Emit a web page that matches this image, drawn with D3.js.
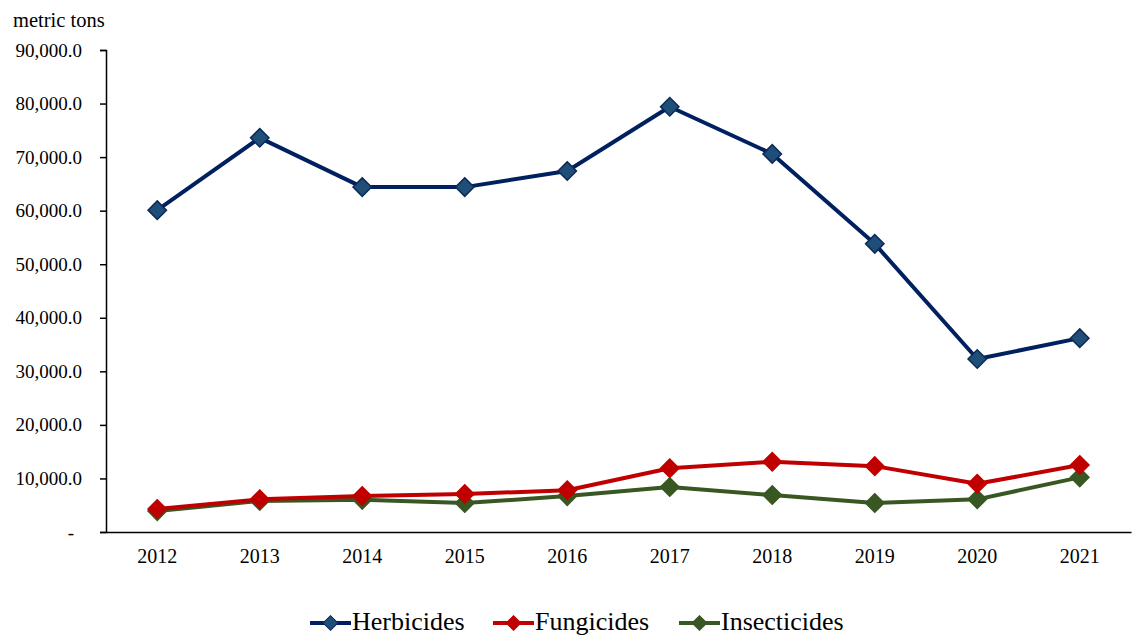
<!DOCTYPE html>
<html>
<head>
<meta charset="utf-8">
<script src="https://cdn.jsdelivr.net/npm/d3@7"></script>
<style>
  body { margin: 0; background: #fff; }
  svg { display: block; font-family: "Liberation Serif", "Times New Roman", serif; }
</style>
</head>
<body>
<svg id="chart" width="1134" height="637"></svg>
<script>
// data
const years = ["2012", "2013", "2014", "2015", "2016", "2017", "2018", "2019", "2020", "2021"];
const herbicides = [60100, 73600, 64400, 64400, 67400, 79400, 70600, 53800, 32300, 36200];
const fungicides = [4300, 6100, 6700, 7100, 7800, 11900, 13100, 12300, 9000, 12500];
const insecticides = [3900, 5800, 6000, 5400, 6700, 8400, 6900, 5400, 6100, 10200];
const yTicks = [0, 10000, 20000, 30000, 40000, 50000, 60000, 70000, 80000, 90000];

const series = [
  {name: "Herbicides", values: herbicides, line: "#002060", fill: "#1f4e79", stroke: "#0b2a55"},
  {name: "Fungicides", values: fungicides, line: "#c00000", fill: "#c00000", stroke: "#c00000"},
  {name: "Insecticides", values: insecticides, line: "#385723", fill: "#385723", stroke: "#385723"}
];

const svg = d3.select("#chart");

//Plot area
const plot = {left: 106, right: 1131, top: 50, bottom: 532};

const x = d3.scaleBand().domain(years).range([plot.left, plot.right]);
const y = d3.scaleLinear().domain([0, 90000]).range([plot.bottom, plot.top]);

//Y axis, labels with one decimal and "-" for zero
const fmt = d3.format(",.1f");
const yAxis = svg.append("g")
    .attr("transform", `translate(${plot.left},0)`)
    .call(d3.axisLeft(y).tickValues(yTicks).tickSize(6).tickPadding(18)
      .tickFormat(d => d === 0 ? "-" : fmt(d)));
yAxis.select(".domain").attr("stroke", "#000").attr("stroke-width", 1.5);
yAxis.selectAll(".tick line").attr("stroke", "#000").attr("stroke-width", 1.5);
yAxis.selectAll(".tick text")
    .attr("font-size", 19)
    .attr("fill", "#000")
    .attr("font-family", "Liberation Serif");
yAxis.selectAll(".tick").filter(d => d === 0).select("text").attr("dx", -8);

//X axis, no tick marks
const xAxis = svg.append("g")
    .attr("transform", `translate(0,${plot.bottom})`)
    .call(d3.axisBottom(x).tickSize(0).tickPadding(17));
xAxis.select(".domain").attr("stroke", "#000").attr("stroke-width", 1.5);
xAxis.selectAll(".tick text")
    .attr("font-size", 20)
    .attr("fill", "#000")
    .attr("font-family", "Liberation Serif");

//Unit label
svg.append("text")
    .attr("x", 13).attr("y", 27)
    .attr("font-size", 20.5)
    .text("metric tons");

const cx = d => x(d) + x.bandwidth() / 2;
const line = d3.line().x((d, i) => cx(years[i])).y(d => y(d));

//Lines and diamond markers, drawn from the last series so herbicides stays on top
series.slice().reverse().forEach(s => {
  const g = svg.append("g");
  g.append("path")
      .datum(s.values)
      .attr("d", line)
      .attr("fill", "none")
      .attr("stroke", s.line)
      .attr("stroke-width", 4)
      .attr("stroke-linejoin", "round");
  g.selectAll("path.marker")
      .data(s.values)
      .enter().append("path")
      .attr("class", "marker")
      .attr("d", d3.symbol().type(d3.symbolSquare).size(170))
      .attr("transform", (d, i) => `translate(${cx(years[i])},${y(d)}) rotate(45)`)
      .attr("fill", s.fill)
      .attr("stroke", s.stroke)
      .attr("stroke-width", 1.5);
});

//Legend at the bottom
const legendX = [310, 493, 679];
const legend = svg.append("g");
series.forEach((s, i) => {
  const lg = legend.append("g").attr("transform", `translate(${legendX[i]},623)`);
  lg.append("line")
      .attr("x1", 0).attr("x2", 41)
      .attr("stroke", s.line).attr("stroke-width", 4);
  lg.append("path")
      .attr("d", d3.symbol().type(d3.symbolSquare).size(110))
      .attr("transform", "translate(20.5,0) rotate(45)")
      .attr("fill", s.fill)
      .attr("stroke", s.stroke)
      .attr("stroke-width", 1);
  lg.append("text")
      .attr("x", 42).attr("y", 7)
      .attr("font-size", 26)
      .attr("fill", "#000")
      .text(s.name);
});
</script>
</body>
</html>
